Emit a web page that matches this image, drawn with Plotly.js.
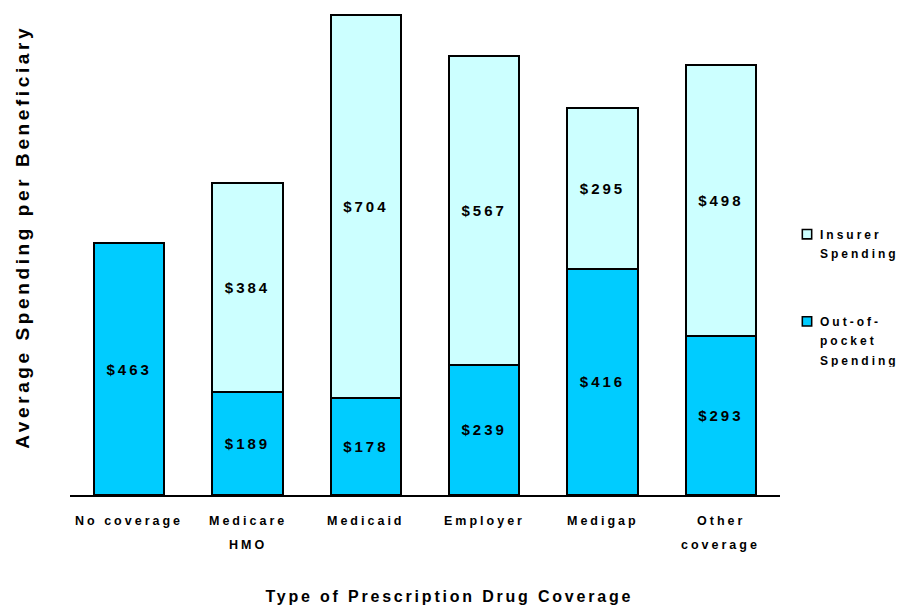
<!DOCTYPE html>
<html>
<head>
<meta charset="utf-8">
<script src="https://cdn.plot.ly/plotly-3.0.1.min.js"></script>
<style>
  html, body { margin: 0; padding: 0; background: #fff; }
  #chart { width: 898px; height: 606px; }
  svg text { letter-spacing: 3px; }
  .annotation[data-index="0"] text { letter-spacing: 2.8px; }
  .annotation[data-index="1"] text { letter-spacing: 3.6px; }
</style>
</head>
<body>
<div id="chart"></div>
<script>
// Coverage groups (a <br> marks where the axis label wraps)
const categories = ["No coverage", "Medicare<br>HMO", "Medicaid", "Employer", "Medigap", "Other<br>coverage"];

// Average spending per beneficiary, in dollars
const outOfPocket = [463, 189, 178, 239, 416, 293];
const insurer     = [null, 384, 704, 567, 295, 498];

const seriesNames = ["Out-of-<br>pocket<br>Spending", "Insurer<br>Spending"];
const xTitle = "Type of Prescription Drug Coverage";
const yTitle = "Average Spending per Beneficiary";

const FONT = "Liberation Sans, Arial, Helvetica, sans-serif";
const outline = { color: "#000", width: 2 };

function barTrace(name, values, fill, group, rank) {
  return {
    type: "bar",
    name: name,
    x: categories,
    y: values,
    legendgroup: group,
    legendrank: rank,
    marker: { color: fill, line: outline },
    texttemplate: "$%{y}",
    textposition: "inside",
    insidetextanchor: "middle",
    textangle: 0,
    constraintext: "none",
    insidetextfont: { family: FONT, size: 15, color: "#000", weight: "bold" },
    cliponaxis: false,
    hoverinfo: "skip"
  };
}

const traces = [
  barTrace(seriesNames[0], outOfPocket, "#00CCFF", "oop", 2),
  barTrace(seriesNames[1], insurer, "#CCFFFF", "ins", 1)
];

// Axis titles and wrapped category labels are placed as annotations
const annotations = [
  {
    text: xTitle, xref: "paper", yref: "paper", x: 0.534, y: 0, yshift: -101,
    xanchor: "center", yanchor: "middle", showarrow: false,
    font: { family: FONT, size: 16, color: "#000", weight: "bold" }
  },
  {
    text: yTitle, xref: "paper", yref: "paper", x: 0, xshift: -48, y: 0.536,
    xanchor: "center", yanchor: "middle", textangle: -90, showarrow: false,
    font: { family: FONT, size: 19, color: "#000", weight: "bold" }
  }
];

categories.forEach(function (cat) {
  cat.split("<br>").forEach(function (line, i) {
    annotations.push({
      text: line, xref: "x", yref: "paper", x: cat, y: 0, yshift: -26 - 24 * i,
      xanchor: "center", yanchor: "middle", showarrow: false,
      font: { family: FONT, size: 12.5, color: "#000", weight: "bold" }
    });
  });
});

const layout = {
  width: 898,
  height: 606,
  margin: { l: 70, r: 118, t: 14, b: 111, autoexpand: false },
  paper_bgcolor: "#fff",
  plot_bgcolor: "#fff",
  barmode: "stack",
  bargap: 0.408,
  font: { family: FONT, size: 12, color: "#000" },
  xaxis: {
    type: "category",
    showline: true, linecolor: "#000", linewidth: 2,
    showticklabels: false, ticks: "", showgrid: false, zeroline: false,
    fixedrange: true
  },
  yaxis: {
    range: [0, 884],
    showline: false, showticklabels: false, ticks: "",
    showgrid: false, zeroline: false, fixedrange: true
  },
  showlegend: true,
  legend: {
    x: 1.0, xanchor: "left",
    y: 0.572, yanchor: "top",
    traceorder: "grouped",
    tracegroupgap: 53,
    valign: "top",
    bgcolor: "rgba(0,0,0,0)",
    font: { family: FONT, size: 12, color: "#000", weight: "bold" }
  },
  annotations: annotations
};

Plotly.newPlot("chart", traces, layout, { staticPlot: true, displayModeBar: false })
  .then(function (gd) {
    // looser line spacing for the multi-line legend entries
    gd.querySelectorAll(".legendtext").forEach(function (t) {
      t.querySelectorAll("tspan.line").forEach(function (ln, i) {
        ln.setAttribute("dy", (i * 1.62) + "em");
      });
    });
    // smaller legend swatches, sitting closer to their labels
    gd.querySelectorAll(".legendpoints path").forEach(function (p) {
      const tf = p.getAttribute("transform") || "";
      p.setAttribute("transform", tf + " translate(7,0) scale(0.78)");
    });
  });
</script>
</body>
</html>
